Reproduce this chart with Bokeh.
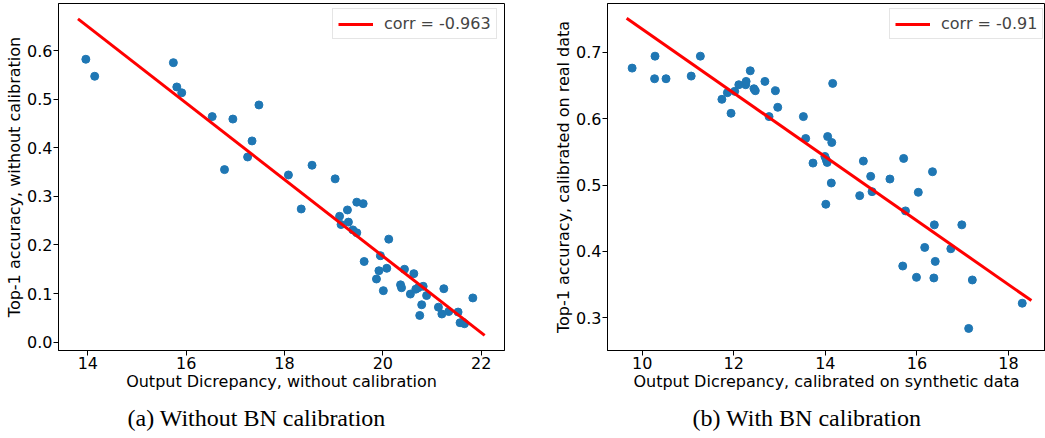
import numpy as np
from bokeh.plotting import figure
from bokeh.layouts import row
from bokeh.models import (FixedTicker, PrintfTickFormatter, Legend, LegendItem,
                          Title, Range1d)
from bokeh.embed import file_html
from bokeh.resources import INLINE

# ---- data: panel (a) without BN calibration ----
a_x = [13.96, 14.14, 15.74, 15.81, 15.91, 16.53, 16.95, 17.48, 17.34, 17.25,
       16.78, 18.08, 18.56, 18.34, 19.03, 19.47, 19.60, 19.28, 19.12, 19.15,
       19.30, 19.39, 19.47, 20.12, 19.95, 19.62, 19.92, 20.08, 19.87, 20.01,
       20.44, 20.63, 20.36, 20.38, 20.56, 20.67, 20.72, 20.82, 20.89, 21.24,
       20.79, 20.75, 21.13, 21.20, 21.34, 21.53, 21.57, 21.66, 21.63, 21.83]
a_y = [0.582, 0.547, 0.575, 0.525, 0.513, 0.464, 0.459, 0.488, 0.414, 0.381,
       0.355, 0.344, 0.364, 0.274, 0.336, 0.288, 0.285, 0.272, 0.259, 0.242,
       0.247, 0.231, 0.225, 0.212, 0.178, 0.166, 0.147, 0.152, 0.130, 0.106,
       0.150, 0.141, 0.118, 0.112, 0.099, 0.109, 0.112, 0.115, 0.096, 0.110,
       0.077, 0.055, 0.072, 0.058, 0.063, 0.062, 0.040, 0.038, 0.041, 0.091]
a_fit_x = [13.80, 22.07]
a_fit_y = [0.665, 0.014]
a_label = "corr = -0.963"
a_xlabel = "Output Dicrepancy, without calibration"
a_ylabel = "Top-1 accuracy, without calibration"
a_caption = "(a) Without BN calibration"
a_xticks = [14, 16, 18, 20, 22]
a_yticks = [0.0, 0.1, 0.2, 0.3, 0.4, 0.5, 0.6]

# ---- data: panel (b) with BN calibration ----
b_x = [9.78, 10.28, 10.27, 10.52, 11.07, 11.27, 11.74, 11.86, 11.94, 12.02,
       12.11, 12.26, 12.27, 12.36, 12.44, 12.47, 12.68, 12.91, 12.96, 12.77,
       13.52, 13.57, 13.73, 14.05, 14.14, 14.16, 13.99, 14.02, 14.04, 14.13,
       14.01, 14.83, 14.99, 15.02, 14.75, 15.41, 15.71, 15.75, 16.34, 16.03,
       16.38, 16.17, 16.74, 16.98, 16.40, 15.69, 15.99, 16.37, 17.21, 17.13,
       18.30]
b_y = [0.676, 0.694, 0.660, 0.660, 0.664, 0.694, 0.629, 0.639, 0.608, 0.641,
       0.651, 0.651, 0.656, 0.672, 0.645, 0.642, 0.656, 0.642, 0.617, 0.603,
       0.603, 0.570, 0.533, 0.573, 0.564, 0.653, 0.543, 0.538, 0.534, 0.503,
       0.471, 0.536, 0.513, 0.490, 0.484, 0.509, 0.540, 0.461, 0.520, 0.489,
       0.440, 0.406, 0.404, 0.440, 0.385, 0.378, 0.361, 0.360, 0.357, 0.284,
       0.322]
b_fit_x = [9.66, 18.50]
b_fit_y = [0.751, 0.326]
b_label = "corr = -0.91"
b_xlabel = "Output Dicrepancy, calibrated on synthetic data"
b_ylabel = "Top-1 accuracy, calibrated on real data"
b_caption = "(b) With BN calibration"
b_xticks = [10, 12, 14, 16, 18]
b_yticks = [0.3, 0.4, 0.5, 0.6, 0.7]

FONT = "DejaVu Sans"
FS = "16px"


def panel(xs, ys, fx, fy, label, xlabel, ylabel, caption, xt, yt,
          xr, yr, fw, mbl, mbr, leg_loc, cap_off):
    p = figure(frame_width=fw, frame_height=347, output_backend="svg",
               toolbar_location=None, x_range=Range1d(*xr),
               y_range=Range1d(*yr), min_border_left=mbl,
               min_border_right=mbr, min_border_top=3, min_border_bottom=0)
    p.grid.visible = False
    p.outline_line_color = "black"
    p.outline_line_width = 1
    p.background_fill_color = "white"
    p.border_fill_color = "white"
    p.scatter(xs, ys, size=8, color="#1f77b4", line_color="#1f77b4")
    ln = p.line(fx, fy, line_width=3, color="red")
    for ax, ticks, lab in ((p.xaxis[0], xt, xlabel), (p.yaxis[0], yt, ylabel)):
        ax.ticker = FixedTicker(ticks=ticks)
        ax.axis_label = lab
        ax.axis_label_text_font = FONT
        ax.axis_label_text_font_size = FS
        ax.axis_label_text_font_style = "normal"
        ax.axis_label_text_color = "black"
        ax.major_label_text_font = FONT
        ax.major_label_text_font_size = FS
        ax.major_label_text_color = "black"
        ax.major_tick_out = 5
        ax.major_tick_in = 0
        ax.minor_tick_out = 0
        ax.minor_tick_in = 0
        ax.major_label_standoff = 1
        ax.axis_label_standoff = 0
        ax.axis_line_color = "black"
        ax.major_tick_line_color = "black"
    p.yaxis[0].formatter = PrintfTickFormatter(format="%.1f")
    leg = Legend(items=[LegendItem(label=label, renderers=[ln])],
                 location=leg_loc, label_text_font=FONT,
                 label_text_font_size=FS, glyph_width=35, glyph_height=18,
                 label_height=18, label_standoff=11, padding=5, margin=0,
                 border_line_color="#cccccc", background_fill_alpha=0.8)
    p.add_layout(leg)
    p.add_layout(Title(text=caption, align="left", offset=cap_off,
                       vertical_align="top",
                       text_font="Liberation Serif", text_font_size="24px",
                       text_font_style="normal", text_color="black",
                       standoff=22), "below")
    return p


pa = panel(a_x, a_y, a_fit_x, a_fit_y, a_label, a_xlabel, a_ylabel, a_caption,
           a_xticks, a_yticks, (13.404, 22.474), (-0.0171, 0.6967),
           446, 58, 16, (274, 311), 69)
pb = panel(b_x, b_y, b_fit_x, b_fit_y, b_label, b_xlabel, b_ylabel, b_caption,
           b_xticks, b_yticks, (9.242, 18.808), (0.2508, 0.7733),
           438, 87, 0, (282, 311), 85)

layout = row(pa, pb)
open("out.html", "w").write(file_html(layout, INLINE))
